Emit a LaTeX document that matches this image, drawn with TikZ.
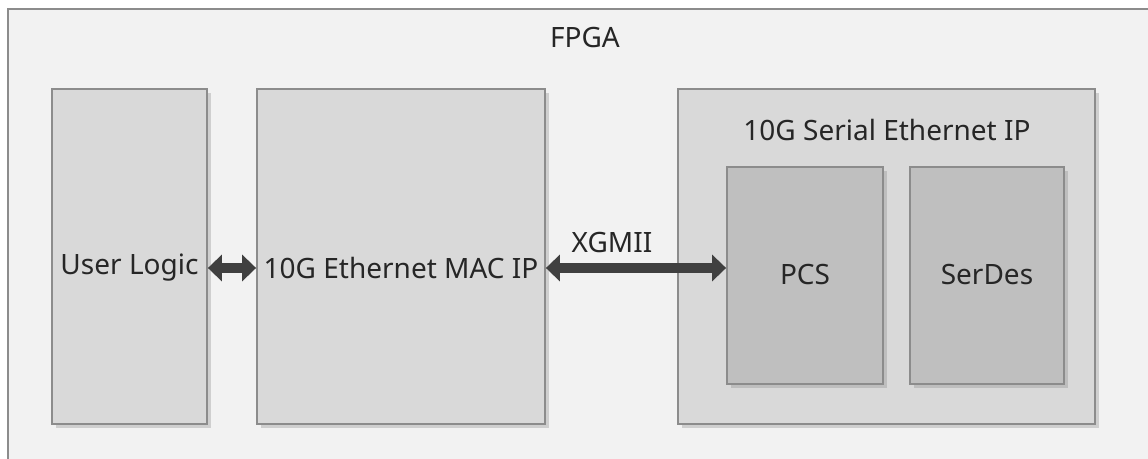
\documentclass[tikz,border=0pt]{standalone}
\usepackage{fontspec}
\setmainfont{Noto Sans}
\usetikzlibrary{arrows.meta,fit,shadows}

\definecolor{fpgafill}{HTML}{F2F2F2}
\definecolor{blockfill}{HTML}{D9D9D9}
\definecolor{subfill}{HTML}{BFBFBF}
\definecolor{edge}{HTML}{8C8C8C}
\definecolor{bus}{HTML}{404040}

\tikzset{
  block/.style={draw=edge, line width=0.9pt, fill=blockfill, inner sep=0pt,
    drop shadow={shadow xshift=2pt, shadow yshift=-2pt, opacity=0.3}},
  subblock/.style={block, fill=subfill},
  txt/.style={font=\fontsize{14}{16}\selectfont, text=black!85, inner sep=0pt},
  busarrow/.style={bus, line width=5pt,
    {Triangle[width=13pt,length=7pt]}-{Triangle[width=13pt,length=7pt]}}
}

\begin{document}
\begin{tikzpicture}[x=0.5pt,y=-0.5pt]
\useasboundingbox (0,0) rectangle (1148,459);
\clip (0,0) rectangle (1148,459);
\fill[white] (0,0) rectangle (1148,459);

% FPGA frame
\draw[draw=edge, line width=0.9pt, fill=fpgafill] (8,9) rectangle (1170,480);
\node[txt] (fpga) at (585,38) {FPGA};

% blocks
\node[block, fit={(52,89) (207,424)}] (ul) {};
\node[block, fit={(257,89) (545,424)}] (mac) {};
\node[block, fit={(678,89) (1095,424)}] (serial) {};
\node[subblock, fit={(727,167) (883,384)}] (pcs) {};
\node[subblock, fit={(910,167) (1064,384)}] (serdes) {};

\coordinate (row) at (0,268);

% texts
\node[txt] (ultxt) at (ul |- row) {User Logic};
\node[txt] (mactxt) at (mac |- row) {10G Ethernet MAC IP};
\node[txt] (serialtxt) at (887,130) {10G Serial Ethernet IP};
\node[txt] (pcstxt) at (pcs |- 0,275) {PCS};
\node[txt] (serdestxt) at (serdes |- 0,275) {SerDes};
\node[txt] (xgmii) at (612,243) {XGMII};

% buses
\draw[busarrow] (ul.east |- row) -- (mac.west |- row);
\draw[busarrow] (mac.east |- row) -- (pcs.west |- row);

\end{tikzpicture}
\end{document}
